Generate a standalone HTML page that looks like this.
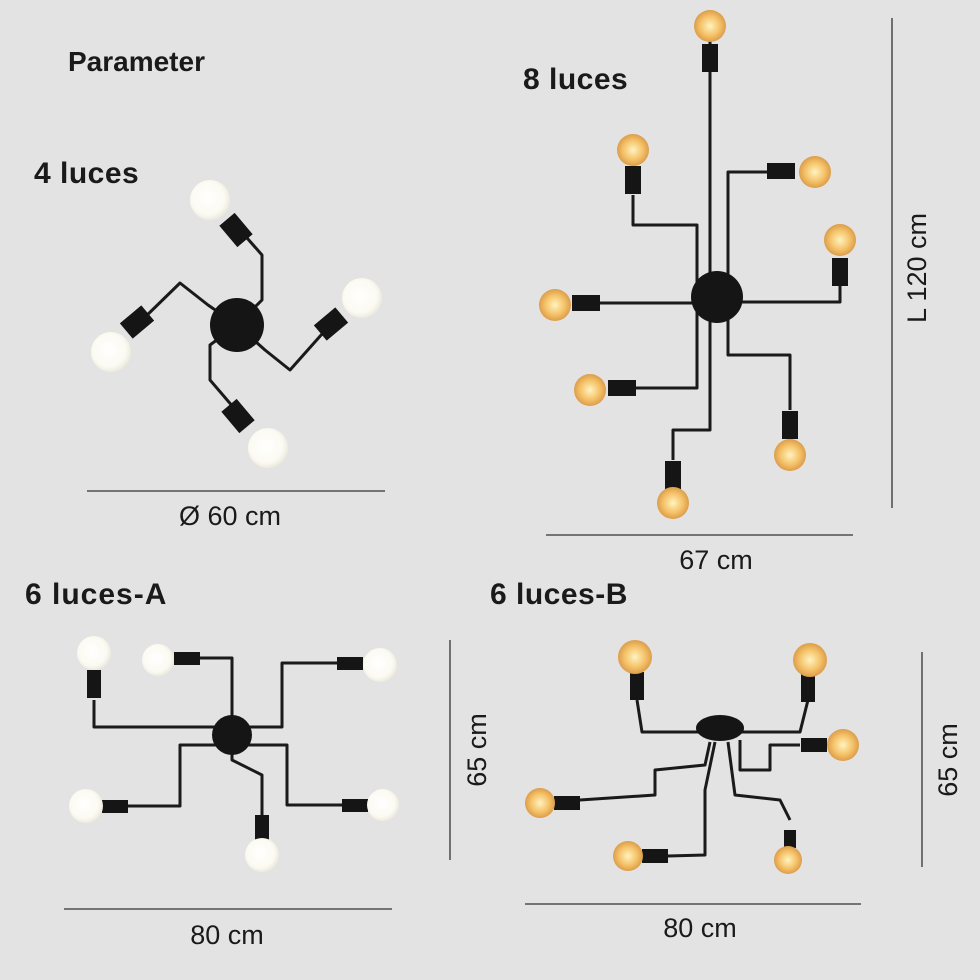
<!DOCTYPE html>
<html><head><meta charset="utf-8"><style>
html,body{margin:0;padding:0;background:#e3e3e3}
svg{display:block}
text{font-family:"Liberation Sans",sans-serif;fill:#1a1a1a}
</style></head><body>
<svg width="980" height="980" viewBox="0 0 980 980" xmlns="http://www.w3.org/2000/svg">
<defs>
<radialGradient id="w" cx="0.45" cy="0.45" r="0.6"><stop offset="0" stop-color="#ffffff"/><stop offset="0.7" stop-color="#fbfaf2"/><stop offset="1" stop-color="#e8e4d8"/></radialGradient>
<radialGradient id="a" cx="0.5" cy="0.5" r="0.6"><stop offset="0" stop-color="#fff3c0"/><stop offset="0.5" stop-color="#f5c36a"/><stop offset="1" stop-color="#d08a3a"/></radialGradient>
</defs>
<rect width="980" height="980" fill="#e3e3e3"/>
<g font-weight="bold">
<text x="68" y="71" font-size="28">Parameter</text>
<text x="34" y="183" font-size="30" letter-spacing="0.5">4 luces</text>
<text x="523" y="89" font-size="30" letter-spacing="0.5">8 luces</text>
<text x="25" y="604" font-size="30" letter-spacing="1">6 luces-A</text>
<text x="490" y="604" font-size="30" letter-spacing="0.5">6 luces-B</text>
</g>
<g stroke="#333" stroke-width="1.3">
<line x1="87" y1="491" x2="385" y2="491"/>
<line x1="546" y1="535" x2="853" y2="535"/>
<line x1="892" y1="18" x2="892" y2="508"/>
<line x1="64" y1="909" x2="392" y2="909"/>
<line x1="450" y1="640" x2="450" y2="860"/>
<line x1="525" y1="904" x2="861" y2="904"/>
<line x1="922" y1="652" x2="922" y2="867"/>
</g>
<g font-size="27" text-anchor="middle">
<text x="230" y="525">Ø 60 cm</text>
<text x="716" y="569">67 cm</text>
<text x="227" y="944">80 cm</text>
<text x="700" y="937">80 cm</text>
<text transform="translate(926,268) rotate(-90)">L 120 cm</text>
<text transform="translate(486,750) rotate(-90)">65 cm</text>
<text transform="translate(957,760) rotate(-90)">65 cm</text>
</g>
<g fill="none" stroke="#1a1a1a" stroke-width="3" stroke-linejoin="round">
<polyline points="237,325 262,300 262,255 240,230"/>
<polyline points="237,325 265,350 290,370 330,325"/>
<polyline points="237,325 210,345 210,380 240,415"/>
<polyline points="237,325 208,305 180,283 140,322"/>
<polyline points="710,40 710,297"/>
<polyline points="633,195 633,225 697,225 697,290"/>
<polyline points="767,172 728,172 728,290"/>
<polyline points="840,285 840,302 730,302"/>
<polyline points="600,303 705,303"/>
<polyline points="636,388 697,388 697,305"/>
<polyline points="673,460 673,430 710,430 710,305"/>
<polyline points="790,410 790,355 728,355 728,305"/>
<polyline points="94,700 94,727 232,727"/>
<polyline points="200,658 232,658 232,735"/>
<polyline points="337,663 282,663 282,727 232,727"/>
<polyline points="128,806 180,806 180,745 232,745"/>
<polyline points="262,815 262,775 232,760 232,735"/>
<polyline points="342,805 287,805 287,745 232,745"/>
<polyline points="637,700 642,732 705,732"/>
<polyline points="808,700 800,732 735,732"/>
<polyline points="800,745 770,745 770,770 740,770 740,740"/>
<polyline points="580,800 655,795 655,770 705,765 710,742"/>
<polyline points="668,856 705,855 705,790 715,742"/>
<polyline points="790,820 780,800 735,795 728,742"/>
</g>
<g fill="#151515">
<circle cx="237" cy="325" r="27"/>
<circle cx="717" cy="297" r="26"/>
<circle cx="232" cy="735" r="20"/>
<ellipse cx="720" cy="728" rx="24" ry="13"/>
<rect x="226" y="216" width="20" height="28" transform="rotate(-40 236 230)"/>
<rect x="321" y="310" width="20" height="28" transform="rotate(50 331 324)"/>
<rect x="228" y="402" width="20" height="28" transform="rotate(-40 238 416)"/>
<rect x="127" y="308" width="20" height="28" transform="rotate(50 137 322)"/>
<rect x="702" y="44" width="16" height="28"/>
<rect x="625" y="166" width="16" height="28"/>
<rect x="767" y="163" width="28" height="16"/>
<rect x="832" y="258" width="16" height="28"/>
<rect x="572" y="295" width="28" height="16"/>
<rect x="608" y="380" width="28" height="16"/>
<rect x="665" y="461" width="16" height="28"/>
<rect x="782" y="411" width="16" height="28"/>
<rect x="87" y="670" width="14" height="28"/>
<rect x="174" y="652" width="26" height="13"/>
<rect x="337" y="657" width="26" height="13"/>
<rect x="102" y="800" width="26" height="13"/>
<rect x="255" y="815" width="14" height="26"/>
<rect x="342" y="799" width="26" height="13"/>
<rect x="630" y="672" width="14" height="28"/>
<rect x="801" y="674" width="14" height="28"/>
<rect x="801" y="738" width="26" height="14"/>
<rect x="554" y="796" width="26" height="14"/>
<rect x="642" y="849" width="26" height="14"/>
<rect x="784" y="830" width="12" height="18"/>
</g>
<g fill="url(#w)">
<circle cx="210" cy="200" r="20"/>
<circle cx="362" cy="298" r="20"/>
<circle cx="268" cy="448" r="20"/>
<circle cx="111" cy="352" r="20"/>
<circle cx="94" cy="653" r="17"/>
<circle cx="158" cy="660" r="16"/>
<circle cx="380" cy="665" r="17"/>
<circle cx="86" cy="806" r="17"/>
<circle cx="262" cy="855" r="17"/>
<circle cx="383" cy="805" r="16"/>
</g>
<g fill="url(#a)">
<circle cx="710" cy="26" r="16"/>
<circle cx="633" cy="150" r="16"/>
<circle cx="815" cy="172" r="16"/>
<circle cx="840" cy="240" r="16"/>
<circle cx="555" cy="305" r="16"/>
<circle cx="590" cy="390" r="16"/>
<circle cx="673" cy="503" r="16"/>
<circle cx="790" cy="455" r="16"/>
<circle cx="635" cy="657" r="17"/>
<circle cx="810" cy="660" r="17"/>
<circle cx="843" cy="745" r="16"/>
<circle cx="540" cy="803" r="15"/>
<circle cx="628" cy="856" r="15"/>
<circle cx="788" cy="860" r="14"/>
</g>
</svg>
</body></html>
